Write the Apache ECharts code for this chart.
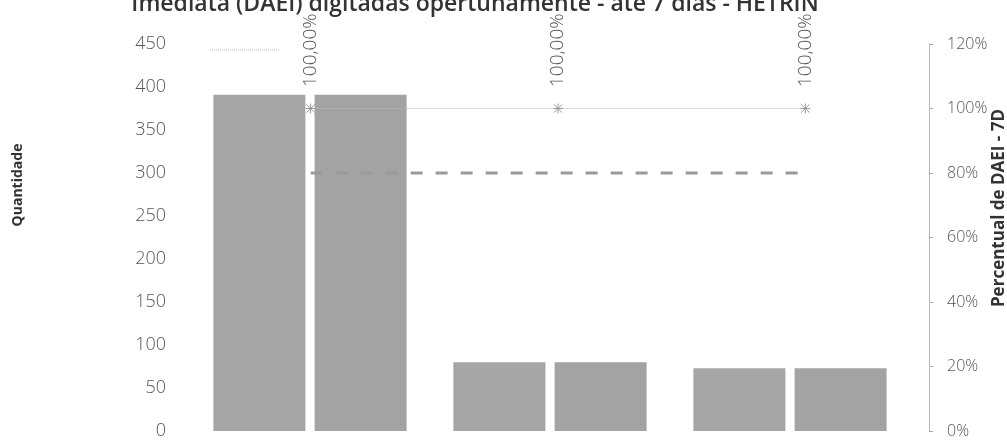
<!DOCTYPE html>
<html>
<head>
<meta charset="utf-8">
<script src="https://cdn.jsdelivr.net/npm/echarts@6/dist/echarts.min.js"></script>
<style>
html,body{margin:0;padding:0;background:#fff;}
#chart{width:1007px;height:443px;}
</style>
</head>
<body>
<div id="chart"></div>
<script>
const categories = ['Jan', 'Fev', 'Mar'];
const totalDAEI = [391, 80, 73];
const digitadas7D = [391, 80, 73];
const percentual = [100, 100, 100];
const meta = [80, 80, 80];
const leftTicks = { min: 0, max: 450, interval: 50 };
const rightTicks = { min: 0, max: 120, interval: 20 };
const titleText = 'Imediata (DAEI) digitadas opertunamente - até 7 dias - HETRIN';
const leftName = 'Quantidade';
const rightName = 'Percentual de DAEI - 7D';

const FONT = '"Open Sans", "Liberation Sans", sans-serif';
const chart = echarts.init(document.getElementById('chart'));
const asterisk = 'path://M0,0L10,10M10,0L0,10M5,-1L5,11M-1,5L11,5';

chart.setOption({
  animation: false,
  backgroundColor: '#ffffff',
  grid: [
    { left: 190, right: 97, top: 44, bottom: 12 },
    { left: 187, right: 78, top: 44, bottom: 12 }
  ],
  xAxis: [
    { type: 'category', data: categories, gridIndex: 0,
      axisLine: { show: false }, axisTick: { show: false }, axisLabel: { show: false } },
    { type: 'category', data: categories, gridIndex: 1,
      axisLine: { show: false }, axisTick: { show: false }, axisLabel: { show: false } }
  ],
  yAxis: [
    { type: 'value', gridIndex: 0, min: leftTicks.min, max: leftTicks.max, interval: leftTicks.interval,
      position: 'left',
      axisLine: { show: false }, axisTick: { show: false }, splitLine: { show: false },
      axisLabel: { fontFamily: FONT, fontSize: 18, fontWeight: 300, color: '#555', margin: 24 } },
    { type: 'value', gridIndex: 1, min: rightTicks.min, max: rightTicks.max, interval: rightTicks.interval,
      position: 'right',
      axisLine: { show: true, lineStyle: { color: '#aaa', type: 'dotted', width: 1 } },
      axisTick: { show: true, inside: false, length: 4, lineStyle: { color: '#aaa' } },
      splitLine: { show: false },
      axisLabel: { fontFamily: FONT, fontSize: 16, fontWeight: 300, color: '#555', margin: 18,
        formatter: '{value}%' } }
  ],
  series: [
    { name: 'Total DAEI', type: 'bar', xAxisIndex: 0, yAxisIndex: 0, data: totalDAEI,
      barWidth: 92, barGap: '10%', itemStyle: { color: '#a6a6a6' } },
    { name: 'Digitadas até 7 dias', type: 'bar', xAxisIndex: 0, yAxisIndex: 0, data: digitadas7D,
      barWidth: 92, barGap: '10%', itemStyle: { color: '#a3a3a3' } },
    { name: 'Meta', type: 'line', xAxisIndex: 1, yAxisIndex: 1, data: meta,
      symbol: 'none', lineStyle: { color: '#9a9a9a', width: 3, type: [12, 13] }, z: 5 },
    { name: 'Percentual', type: 'line', xAxisIndex: 1, yAxisIndex: 1, data: percentual,
      symbol: asterisk, symbolSize: 10,
      itemStyle: { color: 'none', borderColor: '#999', borderWidth: 1 },
      lineStyle: { color: '#bbb', width: 1, type: 'dotted' },
      label: { show: true, position: 'top', rotate: 90, distance: 14,
        align: 'left', verticalAlign: 'middle',
        fontFamily: FONT, fontSize: 19, fontWeight: 300, color: '#555',
        formatter: p => p.value.toFixed(2).replace('.', ',') + '%' },
      z: 6 }
  ],
  graphic: [
    { type: 'text', x: 475, y: -7, style: { text: titleText, fontFamily: FONT, fontSize: 23,
        fontWeight: 600, fill: '#333', align: 'center', verticalAlign: 'top' } },
    { type: 'text', x: 18, y: 185, rotation: Math.PI / 2,
      style: { text: leftName, fontFamily: FONT, fontSize: 14, fontWeight: 'bold', fill: '#333',
        align: 'center', verticalAlign: 'middle' } },
    { type: 'text', x: 999, y: 208, rotation: Math.PI / 2,
      style: { text: rightName, fontFamily: FONT, fontSize: 17, fontWeight: 'bold', fill: '#333',
        align: 'center', verticalAlign: 'middle' } },
    { type: 'line', shape: { x1: 210, y1: 50, x2: 280, y2: 50 },
      style: { stroke: '#bbb', lineWidth: 1, lineDash: [1, 1] } }
  ]
});
</script>
</body>
</html>
